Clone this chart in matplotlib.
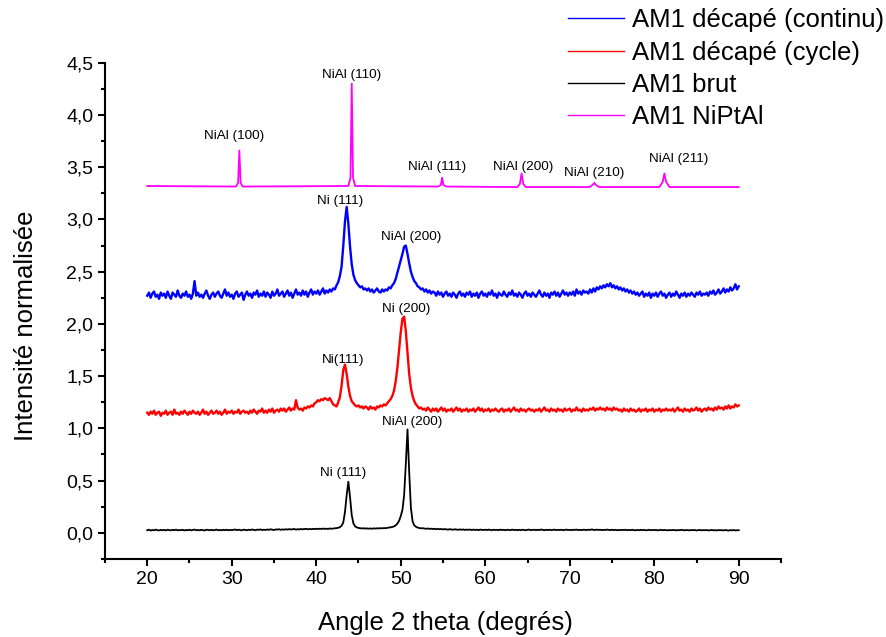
import matplotlib
matplotlib.use('Agg')
import matplotlib.pyplot as plt
from matplotlib.ticker import MultipleLocator, FuncFormatter
from matplotlib.lines import Line2D
import numpy as np

plt.rcParams['font.family'] = ['Liberation Sans', 'DejaVu Sans']

# scan grid of the three noisy patterns, 20..90 deg step 0.2
two_theta = np.linspace(20, 90, 351)

# AM1 decape (continu)
blue = [
    2.27, 2.30, 2.25, 2.29, 2.31, 2.26, 2.28, 2.24, 2.30, 2.27,
    2.29, 2.25, 2.31, 2.27, 2.24, 2.30, 2.28, 2.26, 2.32, 2.27,
    2.25, 2.29, 2.27, 2.31, 2.26, 2.28, 2.24, 2.29, 2.41, 2.27,
    2.30, 2.26, 2.28, 2.25, 2.29, 2.32, 2.27, 2.24, 2.28, 2.30,
    2.26, 2.29, 2.31, 2.27, 2.25, 2.29, 2.33, 2.27, 2.30, 2.26,
    2.28, 2.24, 2.29, 2.31, 2.26, 2.28, 2.30, 2.23, 2.28, 2.31,
    2.27, 2.29, 2.25, 2.30, 2.28, 2.32, 2.26, 2.29, 2.27, 2.31,
    2.26, 2.30, 2.28, 2.25, 2.31, 2.27, 2.29, 2.33, 2.27, 2.29,
    2.31, 2.26, 2.29, 2.32, 2.27, 2.30, 2.25, 2.29, 2.33, 2.28,
    2.30, 2.27, 2.32, 2.28, 2.31, 2.26, 2.30, 2.33, 2.28, 2.31,
    2.29, 2.32, 2.28, 2.31, 2.34, 2.29, 2.32, 2.30, 2.33, 2.31,
    2.34, 2.33, 2.37, 2.40, 2.46, 2.55, 2.75, 2.98, 3.12, 2.96,
    2.74, 2.57, 2.47, 2.42, 2.39, 2.37, 2.35, 2.36, 2.33, 2.34,
    2.32, 2.34, 2.31, 2.33, 2.30, 2.32, 2.34, 2.31, 2.30, 2.33,
    2.31, 2.33, 2.32, 2.35, 2.34, 2.37, 2.39, 2.43, 2.49, 2.55,
    2.61, 2.67, 2.74, 2.75, 2.67, 2.58, 2.50, 2.45, 2.41, 2.39,
    2.36, 2.35, 2.33, 2.34, 2.31, 2.33, 2.30, 2.32, 2.29, 2.31,
    2.30, 2.27, 2.31, 2.28, 2.30, 2.26, 2.29, 2.31, 2.27, 2.29,
    2.26, 2.30, 2.28, 2.25, 2.29, 2.31, 2.27, 2.29, 2.26, 2.30,
    2.28, 2.31, 2.26, 2.29, 2.27, 2.30, 2.25, 2.29, 2.31, 2.27,
    2.29, 2.26, 2.30, 2.28, 2.32, 2.27, 2.29, 2.25, 2.30, 2.28,
    2.27, 2.31, 2.28, 2.26, 2.30, 2.28, 2.32, 2.27, 2.29, 2.26,
    2.30, 2.28, 2.25, 2.29, 2.31, 2.27, 2.29, 2.26, 2.30, 2.28,
    2.26, 2.29, 2.32, 2.28, 2.26, 2.30, 2.27, 2.29, 2.25, 2.30,
    2.28, 2.31, 2.27, 2.30, 2.26, 2.29, 2.32, 2.28, 2.30, 2.27,
    2.30, 2.28, 2.31, 2.27, 2.33, 2.29, 2.31, 2.28, 2.32, 2.30,
    2.31, 2.29, 2.33, 2.30, 2.34, 2.31, 2.35, 2.33, 2.36, 2.34,
    2.37, 2.35, 2.38, 2.36, 2.39, 2.35, 2.37, 2.34, 2.36, 2.33,
    2.35, 2.32, 2.34, 2.31, 2.33, 2.30, 2.32, 2.29, 2.31, 2.28,
    2.30, 2.27, 2.29, 2.31, 2.26, 2.29, 2.27, 2.30, 2.25, 2.29,
    2.27, 2.30, 2.26, 2.29, 2.31, 2.27, 2.29, 2.25, 2.28, 2.30,
    2.26, 2.29, 2.27, 2.31, 2.28, 2.25, 2.29, 2.27, 2.30, 2.26,
    2.29, 2.27, 2.30, 2.28, 2.26, 2.30, 2.28, 2.31, 2.27, 2.29,
    2.28, 2.30, 2.27, 2.31, 2.29, 2.32, 2.28, 2.30, 2.33, 2.29,
    2.31, 2.34, 2.30, 2.33, 2.31, 2.35, 2.32, 2.34, 2.38, 2.33,
    2.36]

# AM1 decape (cycle)
red = [
    1.15, 1.13, 1.16, 1.14, 1.17, 1.13, 1.15, 1.16, 1.12, 1.15,
    1.14, 1.17, 1.13, 1.15, 1.16, 1.13, 1.18, 1.14, 1.15, 1.13,
    1.16, 1.14, 1.17, 1.15, 1.13, 1.16, 1.14, 1.17, 1.15, 1.14,
    1.16, 1.13, 1.15, 1.18, 1.14, 1.16, 1.13, 1.15, 1.17, 1.14,
    1.15, 1.17, 1.14, 1.16, 1.13, 1.15, 1.18, 1.14, 1.16, 1.15,
    1.17, 1.14, 1.16, 1.15, 1.18, 1.14, 1.16, 1.17, 1.15, 1.16,
    1.14, 1.17, 1.15, 1.18, 1.16, 1.14, 1.17, 1.16, 1.19, 1.15,
    1.17, 1.15, 1.18, 1.16, 1.19, 1.15, 1.17, 1.18, 1.16, 1.19,
    1.17, 1.19, 1.16, 1.18, 1.20, 1.17, 1.19, 1.18, 1.27, 1.20,
    1.18, 1.19, 1.17, 1.20, 1.19, 1.21, 1.20, 1.22, 1.21, 1.24,
    1.25, 1.27, 1.26, 1.28, 1.27, 1.29, 1.28, 1.27, 1.29, 1.26,
    1.23, 1.22, 1.21, 1.25, 1.30, 1.41, 1.56, 1.61, 1.52, 1.40,
    1.31, 1.26, 1.24, 1.22, 1.21, 1.22, 1.20, 1.21, 1.19, 1.21,
    1.20, 1.18, 1.21, 1.19, 1.20, 1.18, 1.21, 1.20, 1.22, 1.21,
    1.23, 1.22, 1.24, 1.26, 1.28, 1.31, 1.36, 1.45, 1.58, 1.75,
    1.92, 2.05, 2.07, 1.93, 1.72, 1.52, 1.39, 1.31, 1.26, 1.23,
    1.21, 1.19, 1.20, 1.18, 1.19, 1.17, 1.20, 1.18, 1.16, 1.19,
    1.17, 1.19, 1.16, 1.18, 1.20, 1.17, 1.19, 1.16, 1.18, 1.17,
    1.19, 1.16, 1.18, 1.20, 1.17, 1.19, 1.16, 1.18, 1.17, 1.19,
    1.16, 1.18, 1.17, 1.19, 1.16, 1.18, 1.20, 1.17, 1.19, 1.16,
    1.18, 1.17, 1.19, 1.16, 1.18, 1.17, 1.19, 1.17, 1.16, 1.18,
    1.19, 1.16, 1.18, 1.17, 1.19, 1.16, 1.18, 1.20, 1.17, 1.18,
    1.16, 1.19, 1.17, 1.18, 1.16, 1.18, 1.19, 1.17, 1.18, 1.16,
    1.18, 1.17, 1.19, 1.16, 1.18, 1.20, 1.17, 1.18, 1.16, 1.19,
    1.17, 1.18, 1.16, 1.19, 1.17, 1.18, 1.16, 1.19, 1.17, 1.18,
    1.19, 1.16, 1.18, 1.17, 1.20, 1.17, 1.18, 1.16, 1.19, 1.17,
    1.18, 1.17, 1.19, 1.18, 1.20, 1.17, 1.19, 1.18, 1.20, 1.18,
    1.19, 1.17, 1.20, 1.18, 1.19, 1.17, 1.20, 1.18, 1.19, 1.17,
    1.18, 1.16, 1.19, 1.17, 1.18, 1.16, 1.19, 1.17, 1.18, 1.16,
    1.17, 1.19, 1.16, 1.18, 1.17, 1.19, 1.16, 1.18, 1.17, 1.19,
    1.16, 1.18, 1.17, 1.19, 1.16, 1.18, 1.17, 1.19, 1.17, 1.18,
    1.17, 1.19, 1.16, 1.18, 1.20, 1.17, 1.18, 1.16, 1.19, 1.17,
    1.18, 1.16, 1.19, 1.17, 1.18, 1.20, 1.17, 1.19, 1.16, 1.18,
    1.19, 1.17, 1.20, 1.18, 1.19, 1.17, 1.20, 1.18, 1.21, 1.19,
    1.20, 1.18, 1.21, 1.19, 1.22, 1.19, 1.21, 1.20, 1.23, 1.21,
    1.22]

# AM1 brut
black = [
    0.025, 0.030, 0.022, 0.028, 0.024, 0.031, 0.026, 0.023, 0.029, 0.025,
    0.028, 0.023, 0.030, 0.026, 0.024, 0.029, 0.025, 0.031, 0.024, 0.027,
    0.026, 0.029, 0.023, 0.028, 0.025, 0.030, 0.024, 0.027, 0.031, 0.025,
    0.028, 0.024, 0.029, 0.026, 0.023, 0.030, 0.027, 0.025, 0.029, 0.024,
    0.027, 0.031, 0.025, 0.028, 0.024, 0.029, 0.026, 0.030, 0.025, 0.028,
    0.026, 0.029, 0.032, 0.026, 0.030, 0.027, 0.024, 0.031, 0.028, 0.025,
    0.030, 0.027, 0.032, 0.028, 0.025, 0.031, 0.029, 0.033, 0.027, 0.030,
    0.028, 0.032, 0.029, 0.034, 0.030, 0.027, 0.033, 0.031, 0.035, 0.029,
    0.033, 0.030, 0.035, 0.031, 0.036, 0.032, 0.034, 0.037, 0.031, 0.035,
    0.033, 0.037, 0.034, 0.036, 0.039, 0.034, 0.037, 0.035, 0.038, 0.036,
    0.039, 0.036, 0.040, 0.037, 0.041, 0.038, 0.040, 0.037, 0.042, 0.039,
    0.041, 0.043, 0.045, 0.048, 0.055, 0.068, 0.10, 0.20, 0.36, 0.49,
    0.34, 0.17, 0.09, 0.062, 0.052, 0.047, 0.045, 0.042, 0.044, 0.041,
    0.043, 0.040, 0.042, 0.039, 0.043, 0.041, 0.044, 0.042, 0.045, 0.043,
    0.046, 0.044, 0.048, 0.050, 0.053, 0.056, 0.062, 0.072, 0.088, 0.115,
    0.16, 0.22, 0.36, 0.66, 0.99, 0.58, 0.24, 0.11, 0.072, 0.058,
    0.050, 0.046, 0.043, 0.045, 0.041, 0.039, 0.042, 0.038, 0.040, 0.037,
    0.039, 0.035, 0.038, 0.034, 0.037, 0.033, 0.036, 0.034, 0.031, 0.035,
    0.033, 0.030, 0.034, 0.031, 0.029, 0.033, 0.030, 0.032, 0.028, 0.031,
    0.029, 0.032, 0.027, 0.031, 0.028, 0.030, 0.026, 0.031, 0.029, 0.027,
    0.030, 0.027, 0.031, 0.028, 0.025, 0.030, 0.027, 0.029, 0.026, 0.031,
    0.027, 0.029, 0.025, 0.030, 0.028, 0.026, 0.031, 0.027, 0.029, 0.025,
    0.029, 0.026, 0.030, 0.027, 0.025, 0.029, 0.031, 0.026, 0.028, 0.030,
    0.026, 0.029, 0.027, 0.032, 0.028, 0.025, 0.029, 0.027, 0.030, 0.026,
    0.028, 0.031, 0.026, 0.029, 0.027, 0.030, 0.025, 0.028, 0.031, 0.027,
    0.029, 0.026, 0.030, 0.028, 0.031, 0.027, 0.029, 0.026, 0.030, 0.028,
    0.027, 0.030, 0.028, 0.033, 0.029, 0.027, 0.031, 0.028, 0.030, 0.026,
    0.029, 0.027, 0.031, 0.028, 0.026, 0.030, 0.027, 0.029, 0.025, 0.028,
    0.026, 0.029, 0.027, 0.030, 0.025, 0.028, 0.026, 0.029, 0.027, 0.024,
    0.028, 0.025, 0.029, 0.026, 0.028, 0.024, 0.027, 0.029, 0.025, 0.028,
    0.026, 0.028, 0.024, 0.027, 0.029, 0.025, 0.028, 0.026, 0.024, 0.027,
    0.025, 0.028, 0.026, 0.024, 0.027, 0.025, 0.029, 0.026, 0.024, 0.027,
    0.026, 0.024, 0.028, 0.025, 0.027, 0.023, 0.026, 0.028, 0.024, 0.026,
    0.025, 0.027, 0.023, 0.026, 0.028, 0.024, 0.026, 0.023, 0.027, 0.025,
    0.026, 0.023, 0.027, 0.025, 0.022, 0.026, 0.024, 0.027, 0.023, 0.025,
    0.025]

# AM1 NiPtAl (clean pattern, sharp peaks)
mag_x = [20, 30.5, 30.75, 30.9, 31.05, 31.3, 43.8, 44.05, 44.2, 44.35, 44.6,
         54.4, 54.75, 54.9, 55.05, 55.4, 63.8, 64.1, 64.3, 64.5, 64.8,
         72.3, 72.7, 72.9, 73.1, 73.5, 80.6, 81.0, 81.2, 81.4, 81.8, 90]
mag_y = [3.32, 3.315, 3.35, 3.66, 3.35, 3.315, 3.32, 3.40, 4.30, 3.40, 3.32,
         3.315, 3.33, 3.40, 3.33, 3.315, 3.31, 3.34, 3.44, 3.34, 3.31,
         3.31, 3.33, 3.35, 3.33, 3.31, 3.31, 3.36, 3.44, 3.36, 3.31, 3.31]

labels = ['AM1 décapé (continu)', 'AM1 décapé (cycle)', 'AM1 brut', 'AM1 NiPtAl']
colors = ['#0000ff', '#ff0000', 'black', '#ff00ff']

# peak names: (text, 2theta, intensity)
peak_names = [
    ('NiAl (100)', 30.3, 3.80), ('NiAl (110)', 44.2, 4.38), ('NiAl (111)', 54.3, 3.50),
    ('NiAl (200)', 64.5, 3.50), ('NiAl (210)', 72.9, 3.44), ('NiAl (211)', 82.9, 3.58),
    ('Ni (111)', 42.8, 3.18), ('NiAl (200)', 51.2, 2.83),
    ('Ni (200)', 50.6, 2.14), ('Ni(111)', 43.2, 1.65),
    ('NiAl (200)', 51.4, 1.06), ('Ni (111)', 43.2, 0.57),
]

fig = plt.figure(figsize=(8.86, 6.37), dpi=100)
ax = fig.add_axes([0.1185, 0.1225, 0.763, 0.779])

ax.plot(two_theta, blue, color=colors[0], lw=1.7)
ax.plot(two_theta, red, color=colors[1], lw=1.7)
ax.plot(two_theta, black, color=colors[2], lw=1.3)
ax.plot(mag_x, mag_y, color=colors[3], lw=1.3)

for txt, x, y in peak_names:
    ax.text(x, y, txt, fontsize=9.7, ha='center', va='center')

ax.set_xlim(15, 95)
ax.set_ylim(-0.25, 4.5)
ax.xaxis.set_major_locator(MultipleLocator(10))
ax.xaxis.set_minor_locator(MultipleLocator(5))
ax.yaxis.set_major_locator(MultipleLocator(0.5))
ax.yaxis.set_minor_locator(MultipleLocator(0.25))
ax.yaxis.set_major_formatter(FuncFormatter(lambda v, p: f'{v:.1f}'.replace('.', ',')))
ax.set_xticks([20, 30, 40, 50, 60, 70, 80, 90])

for s in ['top', 'right']:
    ax.spines[s].set_visible(False)
for s in ['left', 'bottom']:
    ax.spines[s].set_linewidth(1.5)
ax.tick_params(which='major', direction='out', length=5, width=1.5, labelsize=14)
ax.tick_params(which='minor', direction='out', length=3, width=1.5)

ax.set_xlabel('Angle 2 theta (degrés)', fontsize=18.5)
ax.set_ylabel('Intensité normalisée', fontsize=18.5)
ax.xaxis.set_label_coords(0.504, -0.104)
ax.yaxis.set_label_coords(-0.099, 0.47)

# thin proxy lines for the legend
handles = [Line2D([], [], color=c, lw=1.0) for c in colors]
fig.legend(handles, labels, loc='upper left', bbox_to_anchor=(0.641, 0.987),
           frameon=False, fontsize=18.5, handlelength=2.2, handletextpad=0.3,
           labelspacing=0.32, borderpad=0, borderaxespad=0)

fig.savefig('out.png', dpi=100)
